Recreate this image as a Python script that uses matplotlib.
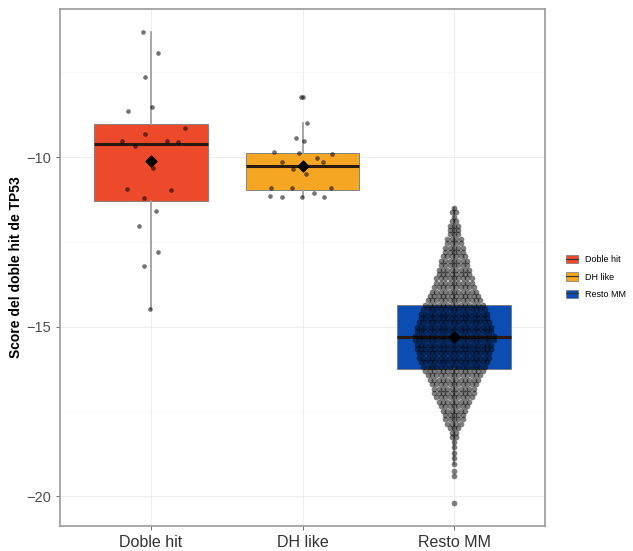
import numpy as np
import matplotlib.pyplot as plt
from matplotlib.patches import Patch
from matplotlib.lines import Line2D

plt.rcParams['font.family'] = ['Liberation Sans', 'DejaVu Sans']

groups = ['Doble hit', 'DH like', 'Resto MM']
colors = ['#EC4A2B', '#F5A623', '#0B4DB3']

# individual points (value, jitter offset)
doble_vals = [-6.32, -6.94, -7.64, -8.53, -8.64, -9.14, -9.32, -9.53, -9.53, -9.56,
              -9.67, -10.33, -10.93, -10.96, -11.22, -11.58, -12.03, -12.79, -13.22, -14.49]
doble_jit = [-0.051, 0.044, -0.036, 0.004, -0.152, 0.227, -0.040, -0.188, 0.108, 0.180,
             -0.106, 0.013, -0.159, 0.132, -0.049, 0.035, -0.079, 0.044, -0.044, -0.005]

dh_vals = [-8.24, -8.24, -9.00, -9.45, -9.53, -9.84, -9.89, -9.91, -10.04, -10.14, -10.14,
           -10.35, -10.51, -10.90, -10.92, -10.90, -11.15, -11.17, -11.19, -11.05, -11.17]
dh_jit = [-0.011, 0.004, 0.030, -0.042, 0.009, -0.188, -0.024, 0.196, 0.093, -0.135, 0.136,
          -0.062, 0.020, -0.211, -0.069, 0.185, -0.216, -0.135, -0.003, 0.077, 0.141]

# Resto MM swarm: row value and number of dots in the row
resto_rows = [-11.50, -11.63, -11.76, -11.89, -12.02, -12.15, -12.28, -12.41, -12.54, -12.67,
              -12.80, -12.93, -13.06, -13.19, -13.32, -13.45, -13.58, -13.71, -13.84, -13.97,
              -14.10, -14.23, -14.36, -14.49, -14.62, -14.75, -14.88, -15.01, -15.14, -15.27,
              -15.40, -15.53, -15.66, -15.79, -15.92, -16.05, -16.18, -16.31, -16.44, -16.57,
              -16.70, -16.83, -16.96, -17.09, -17.22, -17.35, -17.48, -17.61, -17.74, -17.87,
              -18.00, -18.13, -18.25, -18.40, -18.55, -18.72, -18.89, -19.07, -19.26, -19.41,
              -20.22]
resto_counts = [1, 2, 1, 2, 3, 3, 3, 4, 4, 5,
                5, 6, 7, 7, 8, 8, 9, 9, 10, 11,
                12, 13, 14, 15, 16, 16, 17, 18, 18, 19,
                19, 18, 18, 17, 17, 16, 15, 14, 13, 12,
                11, 10, 10, 9, 8, 7, 6, 5, 5, 4,
                3, 2, 2, 1, 1, 1, 1, 1, 1, 1,
                1]

# box statistics
box_q1 = [-11.30, -10.97, -16.25]
box_med = [-9.62, -10.27, -15.30]
box_q3 = [-9.02, -9.89, -14.37]
whis_lo = [-14.49, -11.19, -19.07]
whis_hi = [-6.32, -9.00, -11.50]
means = [-10.12, -10.27, -15.30]

fig = plt.figure(figsize=(6.33, 5.51), dpi=100)
ax = fig.add_axes([60 / 633, 1 - 526 / 551, 485 / 633, 517 / 551])

pos = [1, 2, 3]
stats = []
for i in range(3):
    stats.append(dict(med=box_med[i], q1=box_q1[i], q3=box_q3[i],
                      whislo=whis_lo[i], whishi=whis_hi[i], fliers=[]))
bp = ax.bxp(stats, positions=pos, widths=0.75, patch_artist=True, showcaps=False,
            boxprops=dict(edgecolor='#777777', linewidth=0.6),
            whiskerprops=dict(color='#a0a0a0', linewidth=1.3),
            medianprops=dict(color='#2b1a12', linewidth=2.2), zorder=2)
for patch, c in zip(bp['boxes'], colors):
    patch.set_facecolor(c)

# jittered points
ax.scatter(np.array(doble_jit) + 1, doble_vals, s=11, color='black', alpha=0.55,
           linewidths=0, zorder=3)
ax.scatter(np.array(dh_jit) + 2, dh_vals, s=11, color='black', alpha=0.55,
           linewidths=0, zorder=3)

# swarm for Resto MM
dx = 0.029
sx, sy = [], []
for v, n in zip(resto_rows, resto_counts):
    offs = (np.arange(n) - (n - 1) / 2) * dx
    sx.extend(3 + offs)
    sy.extend([v] * n)
ax.scatter(sx, sy, s=17, color='black', alpha=0.5, linewidths=0, zorder=3)

ax.scatter(pos, means, marker='D', s=30, color='black', zorder=4)

ax.set_xlim(0.4, 3.6)
ax.set_ylim(-20.885, -5.63)
ax.set_xticks(pos)
ax.set_xticklabels(groups, fontsize=11.5, color='#333333')
ax.set_yticks([-20, -15, -10])
ax.set_yticklabels(['\u221220', '\u221215', '\u221210'], fontsize=10.5, color='#4d4d4d')
ax.set_yticks([-17.5, -12.5, -7.5], minor=True)
ax.tick_params(axis='both', length=3, color='#555555', width=0.6)
ax.tick_params(axis='y', which='minor', length=0)
ax.grid(True, which='major', color='#eeeeee', linewidth=0.8, zorder=0)
ax.grid(True, which='minor', axis='y', color='#f5f5f5', linewidth=0.5, zorder=0)
ax.set_axisbelow(True)
for sp in ax.spines.values():
    sp.set_color('#999999')
    sp.set_linewidth(1.2)
ax.set_ylabel('Score del doble hit de TP53', fontsize=10, fontweight='bold', labelpad=2)

handles = [(Patch(facecolor=c, edgecolor='#777777', linewidth=0.5),
            Line2D([], [], color='#333333', linewidth=0.8)) for c in colors]
fig.legend(handles, groups, loc='center left', bbox_to_anchor=(558 / 633, 1 - 277 / 551),
           frameon=False, fontsize=6.5, handlelength=1.3, handleheight=1.0,
           labelspacing=0.9, handletextpad=0.8)

fig.savefig('out.png', dpi=100)
